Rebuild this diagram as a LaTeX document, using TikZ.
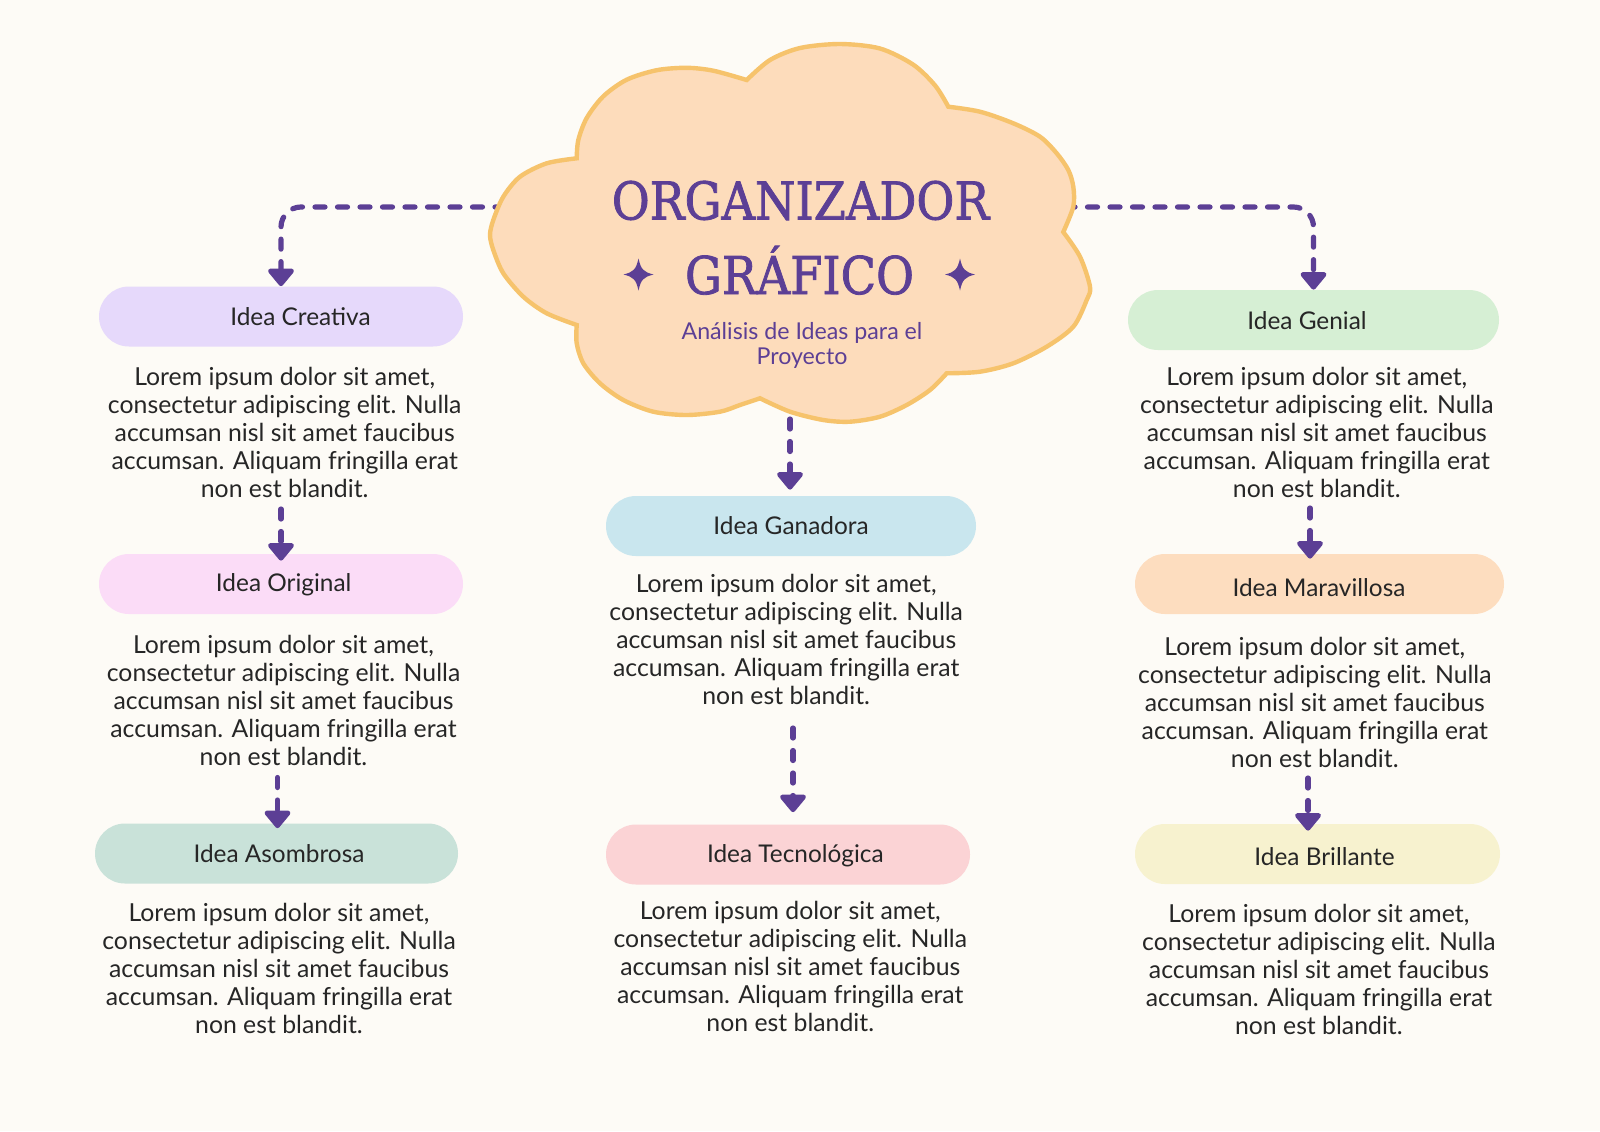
\documentclass[tikz,border=0pt]{standalone}
\usepackage{fontspec}
\setmainfont{Lato}
\newfontfamily\titlefont[FakeBold=1.6]{DejaVu Serif}
\usetikzlibrary{arrows.meta,calc}

\definecolor{paper}{HTML}{FDFBF6}
\definecolor{ink}{HTML}{262626}
\definecolor{violet}{HTML}{5C3F95}
\definecolor{cloudfill}{HTML}{FDDCBB}
\definecolor{cloudline}{HTML}{F6C36C}
\definecolor{cCreativa}{HTML}{E6D9FB}
\definecolor{cOriginal}{HTML}{FBDCF7}
\definecolor{cAsombrosa}{HTML}{C9E2D9}
\definecolor{cGanadora}{HTML}{C9E6EE}
\definecolor{cTecno}{HTML}{FBD3D5}
\definecolor{cGenial}{HTML}{D6EFD4}
\definecolor{cMaravilla}{HTML}{FDDDBF}
\definecolor{cBrillante}{HTML}{F7F2CF}

\newcommand\loremtext{Lorem ipsum dolor sit amet,\\consectetur adipiscing elit. Nulla\\accumsan nisl sit amet faucibus\\accumsan. Aliquam fringilla erat\\non est blandit.}

\tikzset{
  pill/.style={rounded corners=15pt, minimum height=30pt, inner sep=0pt, draw=none},
  lbl/.style={font=\fontsize{12.2}{14}\selectfont, text=ink, inner sep=0pt},
  body/.style={align=center, font=\fontsize{12.4}{14}\selectfont, text=ink, inner sep=0pt},
  arr/.style={draw=violet, line width=2.6pt, line cap=round,
    dash pattern=on 5pt off 6.25pt,
    -{Triangle[length=9.5pt,width=15pt,round]}},
  cloudshape/.style={fill=cloudfill, draw=cloudline, line width=2.2pt, line join=miter},
  sparkle/.style={fill=violet, draw=none},
}

\begin{document}
\begin{tikzpicture}[x=0.5pt,y=-0.5pt]
  % page
  \fill[paper] (0,0) rectangle (1600,1131);
  \useasboundingbox (0,0) rectangle (1600,1131);

  % idea pills
  \node[pill, fill=cCreativa,  minimum width=182pt]   (p1) at (281,316.5)   {};
  \node[pill, fill=cOriginal,  minimum width=182pt]   (p2) at (281,584)     {};
  \node[pill, fill=cAsombrosa, minimum width=181.5pt] (p3) at (276.5,853.5) {};
  \node[pill, fill=cGanadora,  minimum width=185pt]   (p4) at (791,526)     {};
  \node[pill, fill=cTecno,     minimum width=182pt]   (p5) at (788,854.5)   {};
  \node[pill, fill=cGenial,    minimum width=185.5pt] (p6) at (1313.5,320)  {};
  \node[pill, fill=cMaravilla, minimum width=184.5pt] (p7) at (1319.5,584)  {};
  \node[pill, fill=cBrillante, minimum width=182.5pt] (p8) at (1317.5,854)  {};

  % pill labels
  \node[lbl] (l1) at (300.5,317)  {Idea Creativa};
  \node[lbl] (l2) at (283.7,584.5){Idea Original};
  \node[lbl] (l3) at (279,854)    {Idea Asombrosa};
  \node[lbl] (l4) at (791,525.5)  {Idea Ganadora};
  \node[lbl] (l5) at (795.4,855.5){Idea Tecnológica};
  \node[lbl] (l6) at (1307,320.4) {Idea Genial};
  \node[lbl] (l7) at (1319,587.7) {Idea Maravillosa};
  \node[lbl] (l8) at (1324.5,857) {Idea Brillante};

  % descriptions
  \node[body] (t1) at (284.7,432.5) {\loremtext};
  \node[body] (t2) at (283.5,700.5) {\loremtext};
  \node[body] (t3) at (279,968.5)   {\loremtext};
  \node[body] (t4) at (786.2,639)   {\loremtext};
  \node[body] (t5) at (790.3,966.5) {\loremtext};
  \node[body] (t6) at (1316.8,432.5){\loremtext};
  \node[body] (t7) at (1314.8,702.5){\loremtext};
  \node[body] (t8) at (1318.9,969)  {\loremtext};

  % connector end points at the cloud and below the descriptions
  \coordinate (cL) at (505,207);
  \coordinate (cR) at (1065,207);
  \coordinate (cB) at (790,419);
  \coordinate (s12) at (281,509);
  \coordinate (s23) at (277.5,777.5);
  \coordinate (s45) at (793,728);
  \coordinate (s67) at (1310,508);
  \coordinate (s78) at (1308,778);

  % side connectors, drawn under the cloud
  \draw[arr, rounded corners=10pt] (cL) -| (p1.north);
  \draw[arr, rounded corners=10pt] (cR) -| (p6.north);

  % cloud
  \draw[cloudshape]
    plot[smooth] coordinates {(576.7,158.3) (578.3,140) (586.7,118) (603.3,96.3) (626.7,79.7) (656.7,70.2) (686.7,67.8) (713.3,70.7) (746.7,80)}
    -- plot[smooth] coordinates {(746.7,80) (770,60) (800,48) (840,44) (880,48.5) (913.3,64.7) (935.3,85.7) (948.3,106.7)}
    -- plot[smooth] coordinates {(948.3,106.7) (980,111.7) (1013.3,123.3) (1040,136.7) (1056.7,153.3) (1068.3,170) (1073.3,186.7) (1073.3,206.7) (1063.3,232)}
    -- plot[smooth] coordinates {(1063.3,232) (1080,256.7) (1090,286.7) (1086.7,300) (1073.3,326.7) (1046.7,346.7) (1013.3,363.3) (980,371.7) (946.7,373.3)}
    -- plot[smooth] coordinates {(946.7,373.3) (930,390) (906.7,405) (880,416.7) (850,421.7) (823.3,420) (790,411.7) (760,398.3)}
    -- plot[smooth] coordinates {(760,398.3) (740,405) (720,411.7) (686.7,415) (653.3,411.7) (623.3,400) (600,383.3) (583.3,363.3) (576.7,343.3) (576.7,325)}
    -- plot[smooth] coordinates {(576.7,325) (546.7,313.3) (523.3,296.7) (503.3,273.3) (493.3,250) (490,235) (493.3,220) (503.3,196.7) (520,176.7) (546.7,163.3) (576.7,158.3)}
    -- cycle;

  % title
  \node[anchor=base, text=violet, inner sep=0pt] (title1) at (800.5,219.4)
    {\scalebox{0.89}[1]{\titlefont\fontsize{26}{30}\selectfont ORGANIZADOR}};
  \node[anchor=base, text=violet, inner sep=0pt] (title2) at (799.5,294)
    {\scalebox{0.89}[1]{\titlefont\fontsize{26}{30}\selectfont GRÁFICO}};
  \node[align=center, text=violet, inner sep=0pt,
        font=\fontsize{11.6}{12.6}\selectfont] (sub) at (802,345.5)
    {Análisis de Ideas para el\\Proyecto};

  % sparkles beside the title
  \foreach \cx in {638.5,960} {
    \begin{scope}[shift={(\cx,274.5)}]
      \fill[sparkle] (0,-16) .. controls (2.5,-5) and (5,-2.5) .. (15,0)
                     .. controls (5,2.5) and (2.5,5) .. (0,16)
                     .. controls (-2.5,5) and (-5,2.5) .. (-15,0)
                     .. controls (-5,-2.5) and (-2.5,-5) .. (0,-16) -- cycle;
    \end{scope}
  }

  % vertical connectors
  \draw[arr, shorten >=3pt] (cB) -- (cB |- p4.north);
  \draw[arr, shorten >=-3.5pt] (s12) -- (s12 |- p2.north);
  \draw[arr, shorten >=-2.5pt] (s23) -- (s23 |- p3.north);
  \draw[arr, shorten >=6pt] (s45) -- (s45 |- p5.north);
  \draw[arr, shorten >=-2.5pt] (s67) -- (s67 |- p7.north);
  \draw[arr, shorten >=-3.5pt] (s78) -- (s78 |- p8.north);
\end{tikzpicture}
\end{document}
